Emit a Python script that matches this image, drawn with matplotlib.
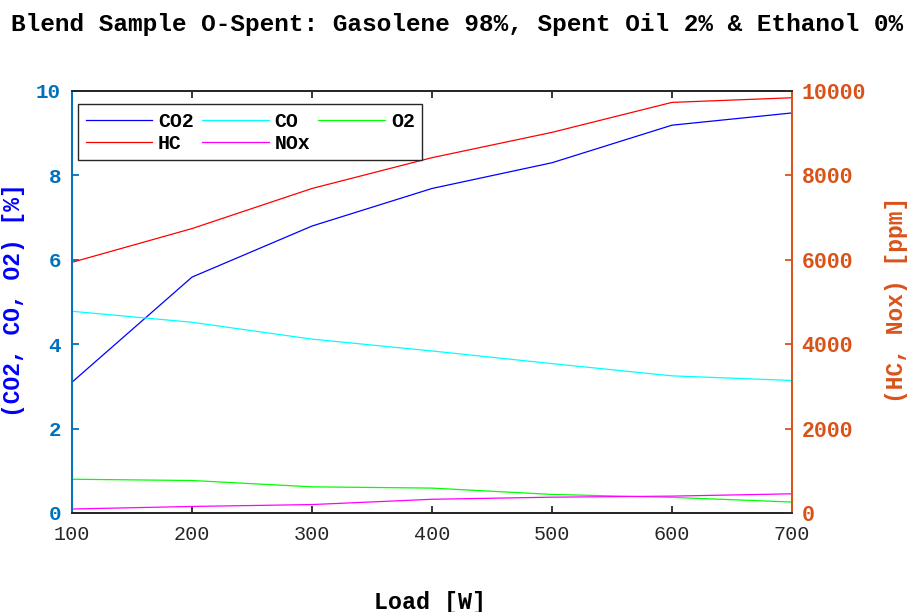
import matplotlib
matplotlib.use("Agg")
import matplotlib.pyplot as plt

load = [100, 200, 300, 400, 500, 600, 700]
co2 = [3.10, 5.59, 6.80, 7.69, 8.30, 9.19, 9.48]
co = [4.78, 4.52, 4.12, 3.84, 3.54, 3.25, 3.14]
o2 = [0.80, 0.77, 0.62, 0.59, 0.44, 0.37, 0.26]
hc = [5940, 6740, 7690, 8420, 9020, 9730, 9840]
nox = [95, 155, 200, 325, 375, 400, 455]

FONT = ["Liberation Mono", "DejaVu Sans Mono"]
plt.rcParams["font.family"] = FONT

BLUE_AX = (0/255, 114/255, 189/255)
ORANGE = (217/255, 83/255, 25/255)
DARK = (0.15, 0.15, 0.15)

fig = plt.figure(figsize=(9.09, 6.12), dpi=100)
ax = fig.add_axes([72/909, 1 - 513/612, 720/909, 422/612])
ax2 = ax.twinx()

l1, = ax.plot(load, co2, color=(0, 0, 1), lw=0.9, label="CO2")
l2, = ax.plot(load, co, color=(0, 1, 1), lw=0.9, label="CO")
l3, = ax.plot(load, o2, color=(0, 1, 0), lw=0.9, label="O2")
l4, = ax2.plot(load, hc, color=(1, 0, 0), lw=0.9, label="HC")
l5, = ax2.plot(load, nox, color=(1, 0, 1), lw=0.9, label="NOx")

ax.set_xlim(100, 700)
ax.set_ylim(0, 10)
ax2.set_ylim(0, 10000)
ax.set_xticks(load)
ax.set_yticks([0, 2, 4, 6, 8, 10])
ax2.set_yticks([0, 2000, 4000, 6000, 8000, 10000])

for a in (ax, ax2):
    for s in a.spines.values():
        s.set_linewidth(1.3)
    a.spines["top"].set_color(DARK)
    a.spines["bottom"].set_color(DARK)
    a.spines["left"].set_color(BLUE_AX)
    a.spines["right"].set_color(ORANGE)

ax.tick_params(axis="x", direction="in", length=5, width=1.3, color=DARK,
               labelcolor=DARK, labelsize=14.5, pad=9, top=True)
ax.tick_params(axis="y", direction="in", length=5, width=1.3, color=BLUE_AX,
               labelcolor=BLUE_AX, labelsize=15, pad=8)
ax2.tick_params(axis="y", direction="in", length=5, width=1.3, color=ORANGE,
                labelcolor=ORANGE, labelsize=15.5, pad=7)
for t in ax.get_yticklabels() + ax2.get_yticklabels():
    t.set_fontweight("bold")

fig.text(14/909, 1 - 300/612, "(CO2, CO, O2) [%]", rotation=90, color=(0, 0, 1),
         fontsize=16.5, fontweight="bold", ha="center", va="center")
fig.text(897/909, 1 - 300/612, "(HC, Nox) [ppm]", rotation=90, color=ORANGE,
         fontsize=16.5, fontweight="bold", ha="center", va="center")
fig.text(430/909, 1 - 602/612, "Load [W]", color="black",
         fontsize=16.8, fontweight="bold", ha="center", va="center")
fig.text(457/909, 1 - 24/612, "Blend Sample O-Spent: Gasolene 98%, Spent Oil 2% & Ethanol 0%",
         color="black", fontsize=17.6, fontweight="bold", ha="center", va="center")

leg = ax2.legend([l1, l4, l2, l5, l3], ["CO2", "HC", "CO", "NOx", "O2"], ncol=3,
                 loc="upper left", bbox_to_anchor=(78/909, 1 - 104/612),
                 bbox_transform=fig.transFigure, frameon=True, fancybox=False,
                 edgecolor=DARK, framealpha=1, borderaxespad=0,
                 prop={"family": FONT, "weight": "bold", "size": 14.3},
                 handlelength=3.35, handletextpad=0.3, columnspacing=0.42,
                 labelspacing=0.15, borderpad=0.38)
leg.get_frame().set_linewidth(1.0)

fig.savefig("out.png", dpi=100)
